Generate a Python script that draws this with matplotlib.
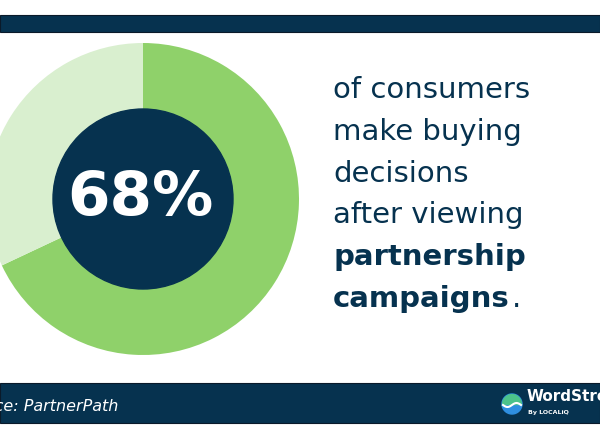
import matplotlib.pyplot as plt
from matplotlib.patches import Circle, Rectangle
import numpy as np

# data
share = [68, 32]
ring_colors = ['#8fd16a', '#d9efcf']
big_label = '68%'
lines_regular = ['of consumers', 'make buying', 'decisions', 'after viewing']
lines_bold = ['partnership', 'campaigns']
source = 'Source: PartnerPath'

navy = '#06324f'
W, H = 600, 434

fig = plt.figure(figsize=(6, 4.34), dpi=100)
ax = fig.add_axes([0, 0, 1, 1])

# top and bottom bands
ax.add_patch(Rectangle((0, H - 32), W, 17, color=navy, ec='#0a1a2a', lw=0.8))
ax.add_patch(Rectangle((0, H - 423), W, 40, color=navy, ec='#0a1a2a', lw=0.8))

# donut
cx, cy = 143, H - 199
ax.pie(share, colors=ring_colors, startangle=90, counterclock=False,
       radius=156, center=(cx, cy), wedgeprops=dict(linewidth=0))
ax.add_patch(Circle((cx, cy), 90, color=navy, zorder=3))
ax.text(cx - 3, cy, big_label, color='white', fontsize=44, fontweight='bold',
        family='DejaVu Sans', ha='center', va='center', zorder=4)

ax.set_xlim(0, W)
ax.set_ylim(0, H)
ax.set_aspect('auto')
ax.axis('off')

# right hand text
x0 = 333
fs = 21
base = [98, 140, 182, 223, 265, 307]
for txt, y in zip(lines_regular, base[:4]):
    ax.text(x0, H - y, txt, color=navy, fontsize=fs, family='DejaVu Sans',
            va='baseline', ha='left')
ax.text(x0, H - base[4], lines_bold[0], color=navy, fontsize=fs,
        fontweight='heavy', family='DejaVu Sans', va='baseline')
t = ax.text(x0, H - base[5], lines_bold[1], color=navy, fontsize=fs,
            fontweight='heavy', family='DejaVu Sans', va='baseline')
fig.canvas.draw()
bb = t.get_window_extent()
ax.text(bb.x1 + 2, H - base[5], '.', color=navy, fontsize=fs,
        family='DejaVu Sans', va='baseline')

# source in footer (runs off the left edge)
ax.text(118, H - 411, source, color='white', fontsize=11.5, style='italic',
        family='DejaVu Sans', ha='right', va='baseline')

# logo
lx, ly = 512, H - 404
ax.add_patch(Circle((lx, ly), 10, color='#2f8fe0', zorder=3))
ax.add_patch(Rectangle((lx - 10, ly), 20, 10, color='#4cc38a', zorder=3,
                       clip_path=Circle((lx, ly), 10, transform=ax.transData)))
wx = np.linspace(lx - 9, lx + 9, 30)
ax.plot(wx, ly - 1 + 2 * np.sin((wx - lx) / 9 * np.pi), color='white', lw=1.5, zorder=4)
ax.text(527, H - 401, 'WordStream', color='white', fontsize=11, fontweight='heavy',
        family='DejaVu Sans', va='baseline')
ax.text(528, H - 414, 'By LOCALiQ', color='white', fontsize=4.5, fontweight='bold',
        family='DejaVu Sans', va='baseline')

fig.savefig('out.png', dpi=100, facecolor='white')
